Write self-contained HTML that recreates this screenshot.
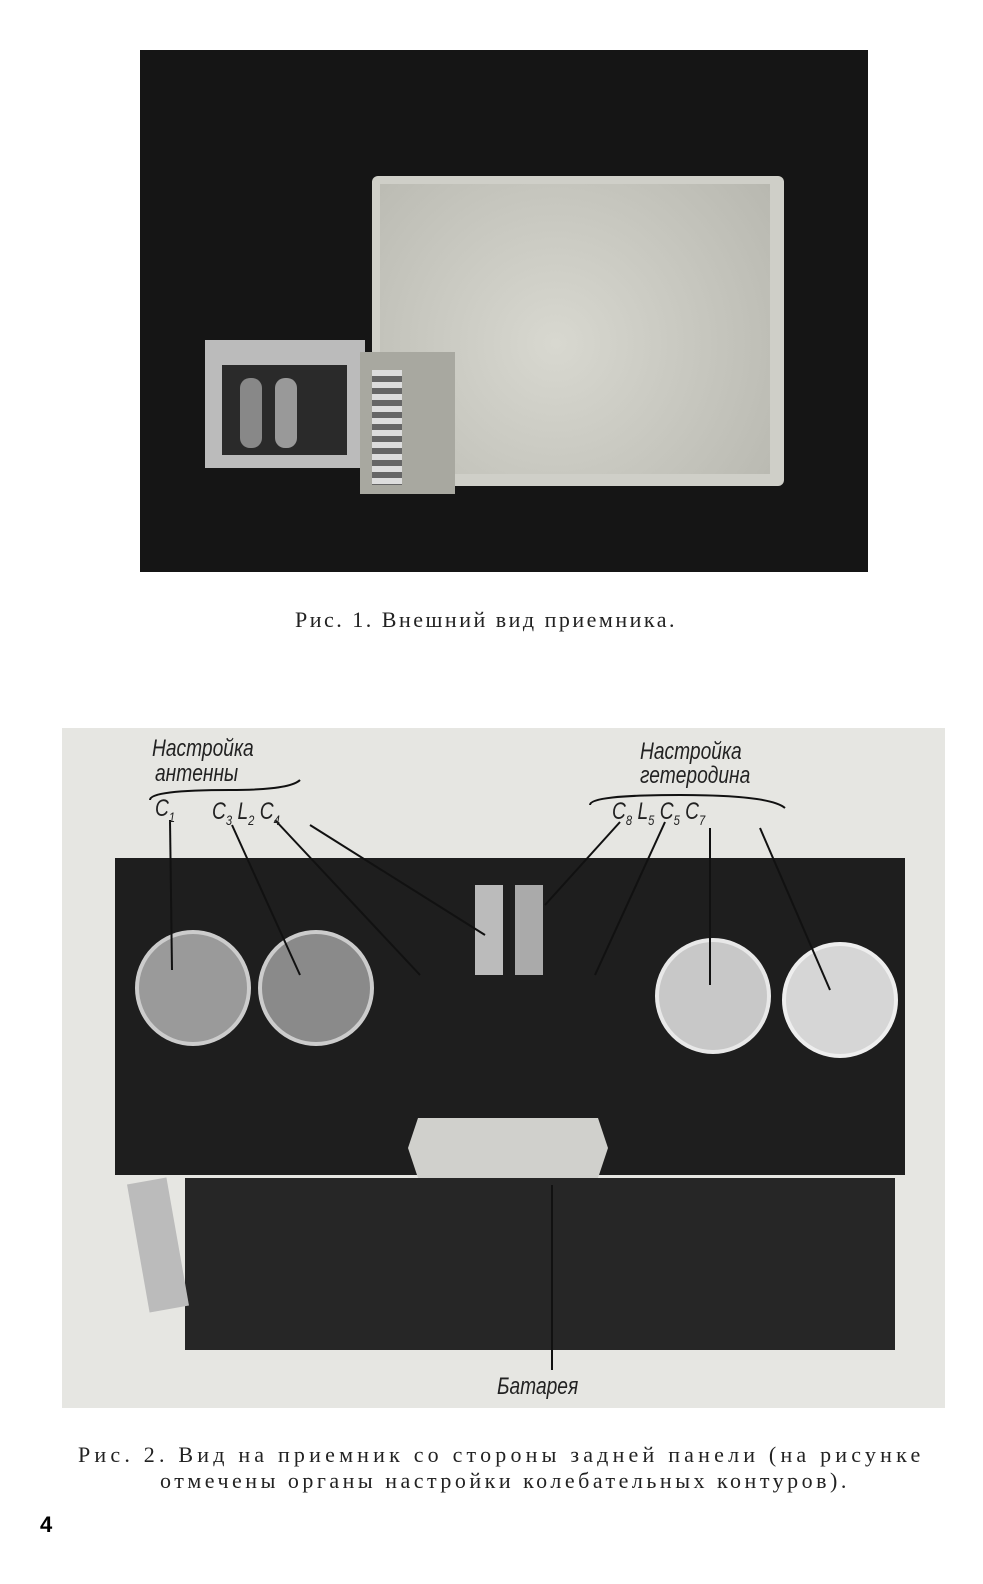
<!DOCTYPE html>
<html><head><meta charset="utf-8"><style>
body{margin:0;width:983px;height:1584px;background:#fff;position:relative;overflow:hidden;font-family:"Liberation Serif","Noto Serif CJK SC",serif}
.a{position:absolute}
.lab{position:absolute;font-family:"Liberation Sans",sans-serif;font-style:italic;font-size:24px;color:#222;transform:scaleX(0.8);transform-origin:left}
</style></head><body>
<!-- Photo 1 -->
<div class="a" style="left:140px;top:50px;width:728px;height:522px;background:#151515"></div>
<div class="a" style="left:372px;top:176px;width:412px;height:310px;background:#cfcfc8;border-radius:6px"></div>
<div class="a" style="left:380px;top:184px;width:390px;height:290px;background:radial-gradient(circle at 45% 55%,#d8d8d0,#b8b8b0)"></div>
<div class="a" style="left:205px;top:340px;width:160px;height:128px;background:#bbb"></div>
<div class="a" style="left:222px;top:365px;width:125px;height:90px;background:#2a2a2a"></div>
<div class="a" style="left:240px;top:378px;width:22px;height:70px;background:#888;border-radius:10px"></div>
<div class="a" style="left:275px;top:378px;width:22px;height:70px;background:#999;border-radius:10px"></div>
<div class="a" style="left:360px;top:352px;width:95px;height:142px;background:#a8a8a0"></div>
<div class="a" style="left:372px;top:370px;width:30px;height:115px;background:repeating-linear-gradient(#ddd 0 6px,#666 6px 12px)"></div>
<div class="a" style="left:295px;top:607px;font-size:22px;color:#222;letter-spacing:2.5px;white-space:nowrap">Рис. 1. Внешний вид приемника.</div>

<!-- Photo 2 -->
<div class="a" style="left:62px;top:728px;width:883px;height:680px;background:#e6e6e2"></div>
<div class="a" style="left:115px;top:858px;width:790px;height:317px;background:#1e1e1e"></div>
<div class="a" style="left:185px;top:1178px;width:710px;height:172px;background:#262626"></div>
<div class="a" style="left:135px;top:930px;width:108px;height:108px;border-radius:50%;background:#9a9a9a;border:4px solid #ccc"></div>
<div class="a" style="left:258px;top:930px;width:108px;height:108px;border-radius:50%;background:#8a8a8a;border:4px solid #ccc"></div>
<div class="a" style="left:655px;top:938px;width:108px;height:108px;border-radius:50%;background:#c8c8c8;border:4px solid #e8e8e8"></div>
<div class="a" style="left:782px;top:942px;width:108px;height:108px;border-radius:50%;background:#d6d6d6;border:4px solid #eee"></div>
<div class="a" style="left:475px;top:885px;width:28px;height:90px;background:#bbb"></div>
<div class="a" style="left:515px;top:885px;width:28px;height:90px;background:#aaa"></div>
<div class="a" style="left:408px;top:1118px;width:200px;height:60px;background:#d0d0cc;clip-path:polygon(5% 0,95% 0,100% 50%,95% 100%,5% 100%,0 50%)"></div>
<div class="a" style="left:138px;top:1180px;width:40px;height:130px;background:#bbb;transform:rotate(-10deg)"></div>
<svg class="a" style="left:0;top:0" width="983" height="1584">
<g stroke="#111" stroke-width="2" fill="none">
<path d="M150 800 Q150 790 230 790 Q290 790 300 780"/>
<path d="M590 805 Q590 795 680 795 Q770 795 785 808"/>
<line x1="170" y1="820" x2="172" y2="970"/>
<line x1="232" y1="825" x2="300" y2="975"/>
<line x1="275" y1="820" x2="420" y2="975"/>
<line x1="310" y1="825" x2="485" y2="935"/>
<line x1="620" y1="822" x2="545" y2="905"/>
<line x1="665" y1="822" x2="595" y2="975"/>
<line x1="710" y1="828" x2="710" y2="985"/>
<line x1="760" y1="828" x2="830" y2="990"/>
<line x1="552" y1="1370" x2="552" y2="1185"/>
</g></svg>
<div class="lab" style="left:152px;top:735px">Настройка</div>
<div class="lab" style="left:155px;top:760px">антенны</div>
<div class="lab" style="left:640px;top:738px">Настройка</div>
<div class="lab" style="left:640px;top:762px">гетеродина</div>
<div class="lab" style="left:155px;top:795px">C<sub style="font-size:14px">1</sub></div>
<div class="lab" style="left:212px;top:798px">C<sub style="font-size:14px">3</sub> L<sub style="font-size:14px">2</sub> C<sub style="font-size:14px">4</sub></div>
<div class="lab" style="left:612px;top:798px">C<sub style="font-size:14px">8</sub> L<sub style="font-size:14px">5</sub> C<sub style="font-size:14px">5</sub> C<sub style="font-size:14px">7</sub></div>
<div class="lab" style="left:497px;top:1373px">Батарея</div>

<div class="a" style="left:78px;top:1442px;font-size:22px;color:#222;letter-spacing:4.2px;white-space:nowrap">Рис. 2. Вид на приемник со стороны задней панели (на рисунке</div>
<div class="a" style="left:160px;top:1468px;font-size:22px;color:#222;letter-spacing:3.5px;white-space:nowrap">отмечены органы настройки колебательных контуров).</div>
<div class="a" style="left:40px;top:1512px;font-size:22px;font-weight:bold;font-family:'Liberation Sans',sans-serif">4</div>
</body></html>
